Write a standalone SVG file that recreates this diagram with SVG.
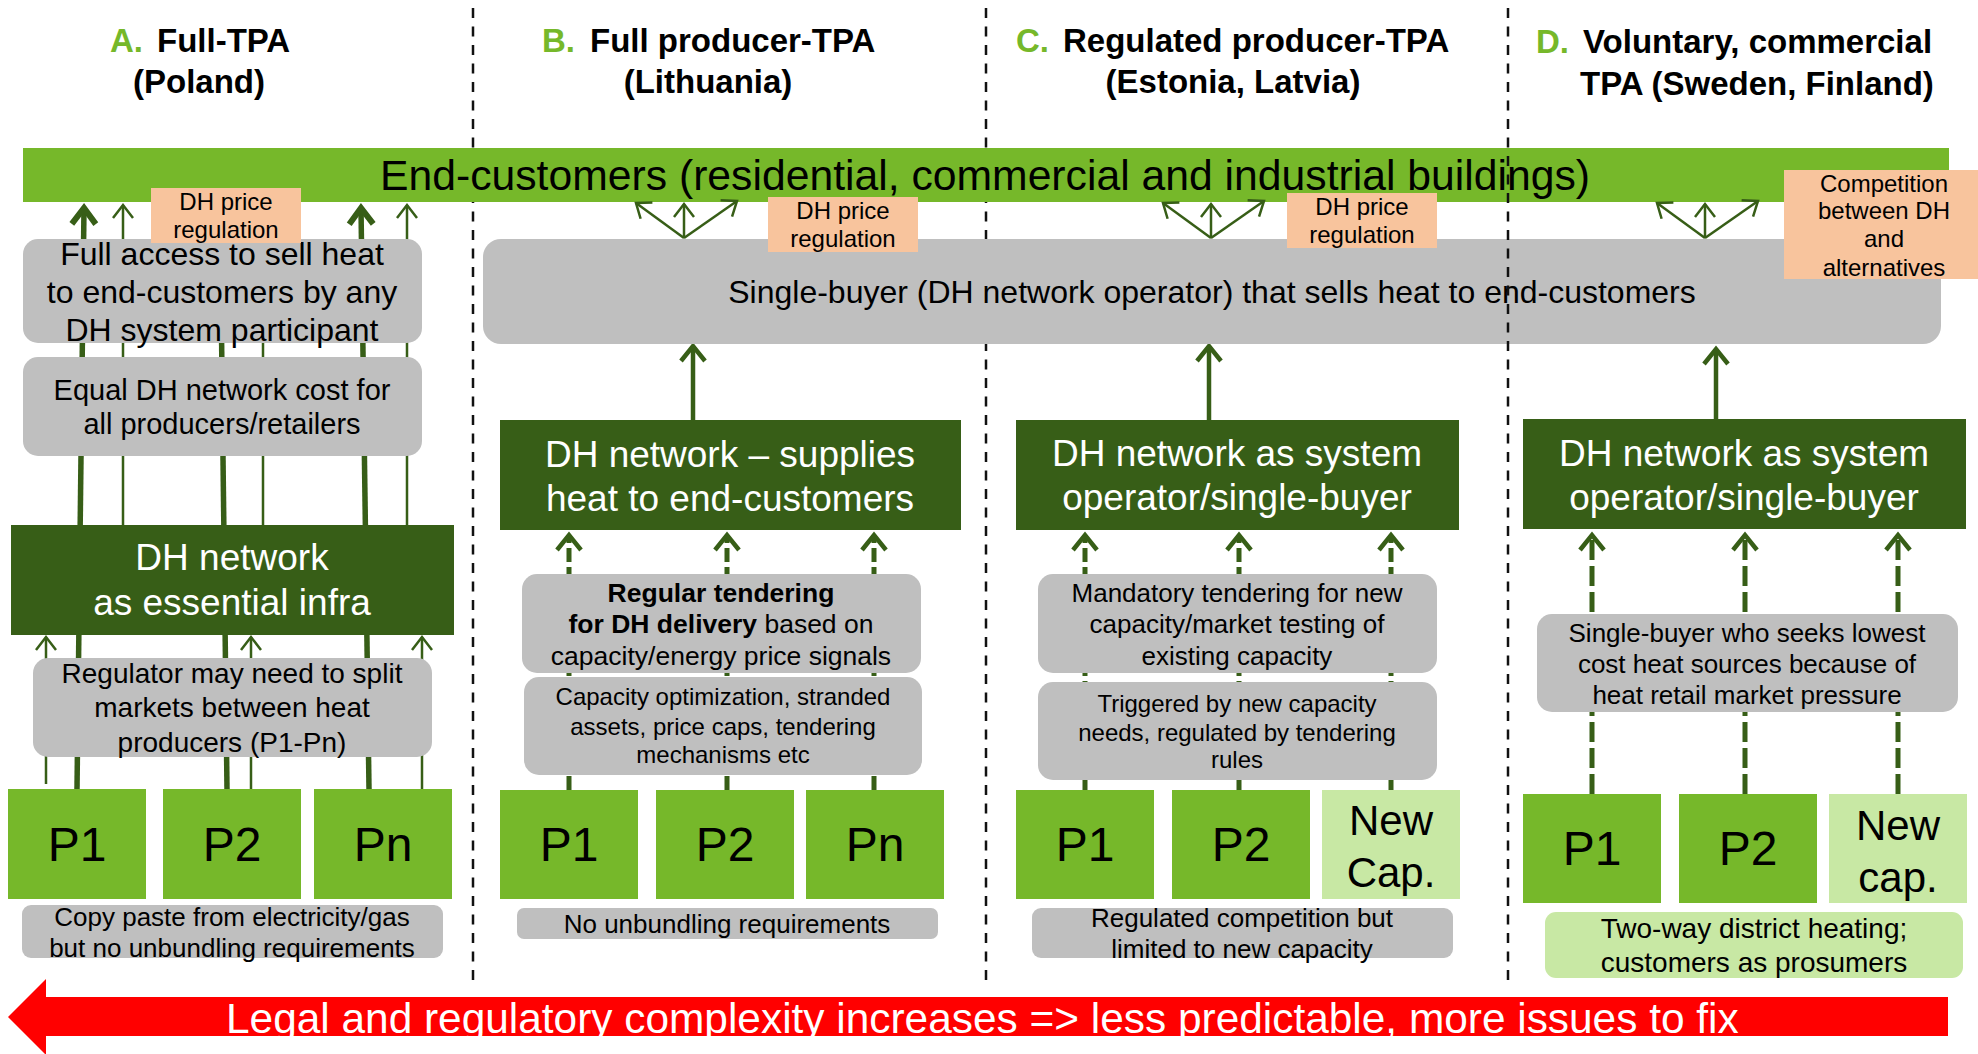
<svg xmlns="http://www.w3.org/2000/svg" width="1978" height="1054" viewBox="0 0 1978 1054">
  <style>
    .t { font-family: "Liberation Sans", Arial, sans-serif; text-anchor: middle; fill: #000; }
    .ttl { font-family: "Liberation Sans", Arial, sans-serif; font-weight: bold; font-size: 33px; fill: #000; }
    .ttl .lt { fill: #76B82A; }
    .b { font-weight: bold; }
    .wht { fill: #fff; }
    .bar { fill: #76B82A; }
    .gray { fill: #BFBFBF; }
    .dk { fill: #375E17; }
    .lg { fill: #76B82A; }
    .pale { fill: #C8E8A4; }
    .org { fill: #F8C49D; }
    .div { stroke: #111; stroke-width: 2.5; stroke-dasharray: 10 8.5; fill: none; }
    .thick { stroke: #375E17; stroke-width: 5.5; fill: none; marker-end: url(#hThick); }
    .thin { stroke: #375E17; stroke-width: 2.5; fill: none; marker-end: url(#hThin); }
    .up { stroke: #375E17; stroke-width: 4.5; fill: none; marker-end: url(#hMed); }
    .dash { stroke: #375E17; stroke-width: 5; fill: none; stroke-dasharray: 14 5; marker-end: url(#hMed); }
    .dashL { stroke: #375E17; stroke-width: 5; fill: none; stroke-dasharray: 20 6; marker-end: url(#hMed); }
  </style>
  <defs>
    <marker id="hThin" markerUnits="userSpaceOnUse" viewBox="-16 -14 20 28" markerWidth="20" markerHeight="28" refX="0" refY="0" orient="auto" overflow="visible">
      <path d="M-13,-10 L0,0 L-13,10" fill="none" stroke="#375E17" stroke-width="2.5"/>
    </marker>
    <marker id="hThick" markerUnits="userSpaceOnUse" viewBox="-18 -16 22 32" markerWidth="22" markerHeight="32" refX="0" refY="0" orient="auto" overflow="visible">
      <path d="M-16,-12 L0,0 L-16,12" fill="none" stroke="#375E17" stroke-width="6"/>
    </marker>
    <marker id="hMed" markerUnits="userSpaceOnUse" viewBox="-18 -16 22 32" markerWidth="22" markerHeight="32" refX="0" refY="0" orient="auto" overflow="visible">
      <path d="M-15,-12 L0,0 L-15,12" fill="none" stroke="#375E17" stroke-width="4.5" stroke-dasharray="none"/>
    </marker>
    <clipPath id="redClip">
      <polygon points="8,1017 46,979 46,997 1948,997 1948,1036 46,1036 46,1055"/>
    </clipPath>
  </defs>

  <rect width="1978" height="1054" fill="#fff"/>

  <!-- column titles -->
  <g id="title-a">
    <text class="ttl" x="110" y="52"><tspan class="lt">A.</tspan></text>
    <text class="ttl" x="157" y="52">Full-TPA</text>
    <text class="ttl" x="199" y="93" text-anchor="middle">(Poland)</text>
  </g>
  <g id="title-b">
    <text class="ttl" x="542" y="52"><tspan class="lt">B.</tspan></text>
    <text class="ttl" x="590" y="52">Full producer-TPA</text>
    <text class="ttl" x="708" y="93" text-anchor="middle">(Lithuania)</text>
  </g>
  <g id="title-c">
    <text class="ttl" x="1016" y="52"><tspan class="lt">C.</tspan></text>
    <text class="ttl" x="1063" y="52">Regulated producer-TPA</text>
    <text class="ttl" x="1233" y="93" text-anchor="middle">(Estonia, Latvia)</text>
  </g>
  <g id="title-d">
    <text class="ttl" x="1536" y="53"><tspan class="lt">D.</tspan></text>
    <text class="ttl" x="1583" y="53">Voluntary, commercial</text>
    <text class="ttl" x="1580" y="95">TPA (Sweden, Finland)</text>
  </g>

  <!-- column dividers (first two sit behind the shared boxes) -->
  <g id="dividers-back">
    <line class="div" x1="473" y1="8" x2="473" y2="984"/>
    <line class="div" x1="986" y1="8" x2="986" y2="988"/>
  </g>

  <!-- end-customer bar -->
  <g id="end-customers">
    <rect class="bar" x="23" y="148" width="1926" height="54"/>
    <text class="t" x="985" y="190" font-size="42.7">End-customers (residential, commercial and industrial buildings)</text>
  </g>

  <!-- connectors -->
  <g id="connectors">
    <!-- A: producers through the network up to end-customers -->
    <line class="thick" x1="77" y1="789" x2="84" y2="208"/>
    <line class="thick" x1="227" y1="789" x2="220" y2="208"/>
    <line class="thick" x1="369" y1="789" x2="361" y2="208"/>
    <line class="thin" x1="123" y1="525" x2="123" y2="205"/>
    <line class="thin" x1="263" y1="525" x2="263" y2="205"/>
    <line class="thin" x1="407" y1="525" x2="407" y2="205"/>
    <line class="thin" x1="46" y1="784" x2="46" y2="637"/>
    <line class="thin" x1="251" y1="789" x2="251" y2="637"/>
    <line class="thin" x1="422" y1="789" x2="422" y2="637"/>

    <!-- B -->
    <line class="thin" x1="684" y1="238" x2="636" y2="203"/>
    <line class="thin" x1="684" y1="238" x2="684" y2="204"/>
    <line class="thin" x1="684" y1="238" x2="737" y2="201"/>
    <line class="up" x1="693" y1="420" x2="693" y2="346"/>
    <line class="dash" x1="569" y1="790" x2="569" y2="535"/>
    <line class="dash" x1="727" y1="790" x2="727" y2="535"/>
    <line class="dash" x1="874" y1="790" x2="874" y2="535"/>

    <!-- C -->
    <line class="thin" x1="1211" y1="238" x2="1163" y2="203"/>
    <line class="thin" x1="1211" y1="238" x2="1211" y2="204"/>
    <line class="thin" x1="1211" y1="238" x2="1264" y2="201"/>
    <line class="up" x1="1209" y1="420" x2="1209" y2="346"/>
    <line class="dash" x1="1085" y1="790" x2="1085" y2="535"/>
    <line class="dash" x1="1239" y1="790" x2="1239" y2="535"/>
    <line class="dash" x1="1391" y1="790" x2="1391" y2="535"/>

    <!-- D -->
    <line class="thin" x1="1705" y1="238" x2="1657" y2="203"/>
    <line class="thin" x1="1705" y1="238" x2="1705" y2="204"/>
    <line class="thin" x1="1705" y1="238" x2="1758" y2="201"/>
    <line class="up" x1="1716" y1="419" x2="1716" y2="349"/>
    <line class="dashL" x1="1592" y1="794" x2="1592" y2="535"/>
    <line class="dashL" x1="1745" y1="794" x2="1745" y2="535"/>
    <line class="dashL" x1="1898" y1="794" x2="1898" y2="535"/>
  </g>

  <!-- A: full TPA -->
  <g id="a-full-access">
    <rect class="gray" x="23" y="239" width="399" height="104" rx="15"/>
    <text class="t" font-size="32"><tspan x="222" y="265">Full access to sell heat</tspan><tspan x="222" y="303">to end-customers by any</tspan><tspan x="222" y="341">DH system participant</tspan></text>
  </g>
  <g id="a-price-reg">
    <rect class="org" x="151" y="188" width="150" height="55"/>
    <text class="t" font-size="24"><tspan x="226" y="210">DH price</tspan><tspan x="226" y="238">regulation</tspan></text>
  </g>
  <g id="a-equal-cost">
    <rect class="gray" x="23" y="357" width="399" height="99" rx="15"/>
    <text class="t" font-size="29"><tspan x="222" y="400">Equal DH network cost for</tspan><tspan x="222" y="434">all producers/retailers</tspan></text>
  </g>
  <g id="a-network">
    <rect class="dk" x="11" y="525" width="443" height="110"/>
    <text class="t wht" font-size="37"><tspan x="232" y="570">DH network</tspan><tspan x="232" y="615">as essential infra</tspan></text>
  </g>
  <g id="a-regulator">
    <rect class="gray" x="33" y="658" width="399" height="99" rx="15"/>
    <text class="t" font-size="28"><tspan x="232" y="683">Regulator may need to split</tspan><tspan x="232" y="717">markets between heat</tspan><tspan x="232" y="752">producers (P1-Pn)</tspan></text>
  </g>
  <g id="a-p1">
    <rect class="lg" x="8" y="789" width="138" height="110"/>
    <text class="t" x="77" y="861" font-size="48">P1</text>
  </g>
  <g id="a-p2">
    <rect class="lg" x="163" y="789" width="138" height="110"/>
    <text class="t" x="232" y="861" font-size="48">P2</text>
  </g>
  <g id="a-pn">
    <rect class="lg" x="314" y="789" width="138" height="110"/>
    <text class="t" x="383" y="861" font-size="48">Pn</text>
  </g>
  <g id="a-note">
    <rect class="gray" x="22" y="905" width="421" height="53" rx="9"/>
    <text class="t" font-size="26"><tspan x="232" y="926">Copy paste from electricity/gas</tspan><tspan x="232" y="957">but no unbundling requirements</tspan></text>
  </g>

  <!-- shared single-buyer box for B, C and D -->
  <g id="single-buyer">
    <rect class="gray" x="483" y="239" width="1458" height="105" rx="18"/>
    <text class="t" x="1212" y="303" font-size="32">Single-buyer (DH network operator) that sells heat to end-customers</text>
  </g>

  <!-- B: full producer TPA -->
  <g id="b-price-reg">
    <rect class="org" x="768" y="197" width="150" height="55"/>
    <text class="t" font-size="24"><tspan x="843" y="219">DH price</tspan><tspan x="843" y="247">regulation</tspan></text>
  </g>
  <g id="b-network">
    <rect class="dk" x="500" y="420" width="461" height="110"/>
    <text class="t wht" font-size="37"><tspan x="730" y="467">DH network – supplies</tspan><tspan x="730" y="511">heat to end-customers</tspan></text>
  </g>
  <g id="b-tendering">
    <rect class="gray" x="522" y="574" width="399" height="99" rx="15"/>
    <text class="t" font-size="26.5"><tspan x="721" y="602" class="b">Regular tendering</tspan><tspan x="721" y="633"><tspan class="b">for DH delivery</tspan> based on</tspan><tspan x="721" y="665">capacity/energy price signals</tspan></text>
  </g>
  <g id="b-capacity">
    <rect class="gray" x="524" y="677" width="398" height="98" rx="15"/>
    <text class="t" font-size="24"><tspan x="723" y="705">Capacity optimization, stranded</tspan><tspan x="723" y="735">assets, price caps, tendering</tspan><tspan x="723" y="763">mechanisms etc</tspan></text>
  </g>
  <g id="b-p1">
    <rect class="lg" x="500" y="790" width="138" height="109"/>
    <text class="t" x="569" y="861" font-size="48">P1</text>
  </g>
  <g id="b-p2">
    <rect class="lg" x="656" y="790" width="138" height="109"/>
    <text class="t" x="725" y="861" font-size="48">P2</text>
  </g>
  <g id="b-pn">
    <rect class="lg" x="806" y="790" width="138" height="109"/>
    <text class="t" x="875" y="861" font-size="48">Pn</text>
  </g>
  <g id="b-note">
    <rect class="gray" x="517" y="908" width="421" height="31" rx="7"/>
    <text class="t" x="727" y="933" font-size="26">No unbundling requirements</text>
  </g>

  <!-- C: regulated producer TPA -->
  <g id="c-price-reg">
    <rect class="org" x="1287" y="193" width="150" height="55"/>
    <text class="t" font-size="24"><tspan x="1362" y="215">DH price</tspan><tspan x="1362" y="243">regulation</tspan></text>
  </g>
  <g id="c-network">
    <rect class="dk" x="1016" y="420" width="443" height="110"/>
    <text class="t wht" font-size="37"><tspan x="1237" y="466">DH network as system</tspan><tspan x="1237" y="510">operator/single-buyer</tspan></text>
  </g>
  <g id="c-tendering">
    <rect class="gray" x="1038" y="574" width="399" height="99" rx="15"/>
    <text class="t" font-size="26"><tspan x="1237" y="602">Mandatory tendering for new</tspan><tspan x="1237" y="633">capacity/market testing of</tspan><tspan x="1237" y="665">existing capacity</tspan></text>
  </g>
  <g id="c-trigger">
    <rect class="gray" x="1038" y="682" width="399" height="98" rx="15"/>
    <text class="t" font-size="24"><tspan x="1237" y="712">Triggered by new capacity</tspan><tspan x="1237" y="741">needs, regulated by tendering</tspan><tspan x="1237" y="768">rules</tspan></text>
  </g>
  <g id="c-p1">
    <rect class="lg" x="1016" y="790" width="138" height="109"/>
    <text class="t" x="1085" y="861" font-size="48">P1</text>
  </g>
  <g id="c-p2">
    <rect class="lg" x="1172" y="790" width="138" height="109"/>
    <text class="t" x="1241" y="861" font-size="48">P2</text>
  </g>
  <g id="c-new">
    <rect class="pale" x="1322" y="790" width="138" height="109"/>
    <text class="t" font-size="42"><tspan x="1391" y="835">New</tspan><tspan x="1391" y="887">Cap.</tspan></text>
  </g>
  <g id="c-note">
    <rect class="gray" x="1032" y="908" width="421" height="50" rx="9"/>
    <text class="t" font-size="26"><tspan x="1242" y="927">Regulated competition but</tspan><tspan x="1242" y="958">limited to new capacity</tspan></text>
  </g>

  <!-- D: voluntary, commercial TPA -->
  <g id="d-network">
    <rect class="dk" x="1523" y="419" width="443" height="110"/>
    <text class="t wht" font-size="37"><tspan x="1744" y="466">DH network as system</tspan><tspan x="1744" y="510">operator/single-buyer</tspan></text>
  </g>
  <g id="d-buyer">
    <rect class="gray" x="1537" y="614" width="421" height="98" rx="15"/>
    <text class="t" font-size="26"><tspan x="1747" y="642">Single-buyer who seeks lowest</tspan><tspan x="1747" y="673">cost heat sources because of</tspan><tspan x="1747" y="704">heat retail market pressure</tspan></text>
  </g>
  <g id="d-p1">
    <rect class="lg" x="1523" y="794" width="138" height="109"/>
    <text class="t" x="1592" y="865" font-size="48">P1</text>
  </g>
  <g id="d-p2">
    <rect class="lg" x="1679" y="794" width="138" height="109"/>
    <text class="t" x="1748" y="865" font-size="48">P2</text>
  </g>
  <g id="d-new">
    <rect class="pale" x="1829" y="794" width="138" height="109"/>
    <text class="t" font-size="42"><tspan x="1898" y="840">New</tspan><tspan x="1898" y="892">cap.</tspan></text>
  </g>
  <g id="d-note">
    <rect class="pale" x="1545" y="912" width="418" height="66" rx="11"/>
    <text class="t" font-size="28"><tspan x="1754" y="938">Two-way district heating;</tspan><tspan x="1754" y="972">customers as prosumers</tspan></text>
  </g>
  <g id="d-competition">
    <rect class="org" x="1784" y="170" width="194" height="109"/>
    <text class="t" font-size="24"><tspan x="1884" y="192">Competition</tspan><tspan x="1884" y="219">between DH</tspan><tspan x="1884" y="247">and</tspan><tspan x="1884" y="276">alternatives</tspan></text>
  </g>

  <!-- last divider runs over the shared bar and box -->
  <g id="dividers-front">
    <line class="div" x1="1508" y1="8" x2="1508" y2="984"/>
  </g>

  <!-- complexity arrow -->
  <g id="complexity-arrow">
    <polygon points="8,1017 46,979 46,997 1948,997 1948,1036 46,1036 46,1055" fill="#FF0000"/>
    <text class="t wht" x="226" y="1033" font-size="42.4" style="text-anchor:start" clip-path="url(#redClip)">Legal and regulatory complexity increases =&gt; less predictable, more issues to fix</text>
  </g>
</svg>
